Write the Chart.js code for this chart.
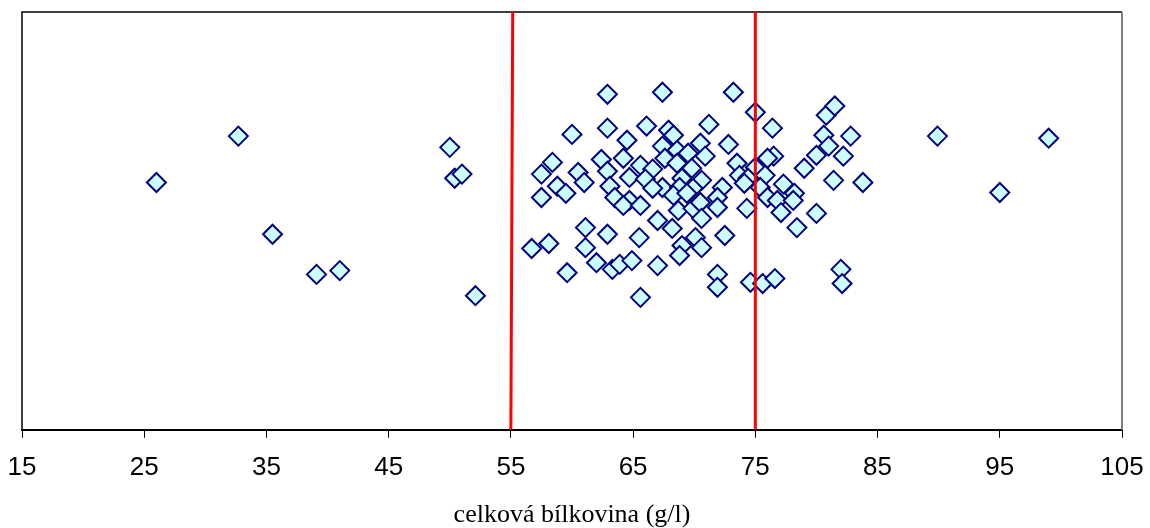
<!DOCTYPE html>
<html>
<head>
<meta charset="utf-8">
<script src="https://cdn.jsdelivr.net/npm/chart.js@4/dist/chart.umd.min.js"></script>
<style>
  html, body { margin: 0; padding: 0; background: #fff; }
  canvas { display: block; }
</style>
</head>
<body>
<canvas id="chart" width="1150" height="528"></canvas>
<script>
// celková bílkovina (g/l) – hodnoty a vertikální rozptyl (jen pro oddělení bodů)
const bilkovina = [
  26.0, 32.7, 35.5, 39.1, 41.0, 50.0, 50.4, 51.0, 52.1, 89.9, 95.0, 99.0,
  62.9, 67.4, 73.2, 75.0, 80.8, 81.5, 60.0, 62.9, 66.1, 64.5, 67.9, 68.3,
  71.2, 76.4, 80.6, 82.8, 67.4, 70.5, 72.8, 68.6, 69.5, 70.9, 67.6, 81.0,
  80.0, 82.2, 76.5, 58.4, 62.4, 64.2, 65.6, 66.6, 68.6, 69.8, 73.5, 76.0,
  75.0, 79.0, 57.5, 60.5, 62.9, 64.7, 66.0, 69.0, 70.6, 73.7, 74.4, 75.8,
  81.4, 83.8, 58.8, 61.0, 63.1, 67.4, 68.8, 69.9, 72.3, 74.1, 75.4, 77.3,
  57.5, 59.5, 63.5, 64.7, 64.2, 65.6, 68.3, 69.4, 68.7, 69.9, 70.5, 71.9,
  71.9, 74.3, 76.0, 76.8, 78.2, 78.1, 77.1, 80.0, 67.0, 68.2, 70.6, 78.4,
  61.1, 62.9, 65.5, 72.5, 70.1, 69.0, 70.6, 58.1, 56.7, 61.1, 68.8, 62.0,
  63.3, 63.9, 64.9, 67.0, 59.6, 71.9, 71.9, 74.6, 75.6, 76.6, 82.0, 82.1,
  65.6, 66.6
];
const rozptyl = [
  59.2, 70.3, 46.8, 37.2, 38.1, 67.6, 60.2, 61.2, 32.1, 70.3, 56.8, 69.8,
  80.3, 80.8, 80.8, 76.0, 75.3, 77.5, 70.7, 72.2, 72.7, 69.3, 71.7, 70.5,
  73.1, 72.2, 70.5, 70.3, 67.9, 68.6, 68.3, 66.9, 66.2, 65.5, 65.0, 67.9,
  65.7, 65.5, 65.5, 64.0, 64.7, 65.0, 63.3, 62.4, 63.8, 62.6, 63.8, 65.0,
  62.8, 62.6, 61.2, 61.6, 61.9, 60.4, 60.0, 60.2, 59.7, 60.9, 60.2, 60.9,
  59.7, 59.2, 58.3, 59.2, 58.3, 58.0, 58.0, 57.8, 58.0, 59.0, 58.0, 58.8,
  55.6, 56.6, 55.6, 54.9, 53.7, 53.7, 56.1, 56.6, 52.5, 53.0, 54.4, 55.6,
  53.2, 53.0, 55.6, 54.9, 56.6, 54.9, 52.0, 51.8, 50.1, 48.2, 50.6, 48.4,
  48.4, 46.8, 46.0, 46.5, 46.0, 44.1, 43.6, 44.6, 43.4, 43.6, 41.7, 40.0,
  38.4, 39.6, 40.5, 39.3, 37.6, 37.2, 34.1, 35.3, 35.0, 36.2, 38.4, 35.0,
  31.7, 57.8
];
// referenční meze
const dolniMez = [55.15, 55];
const horniMez = [75, 75];
const mezY = [100, 0];
const osaX = { min: 15, max: 105, krok: 10 };

const body = bilkovina.map((x, i) => ({ x, y: rozptyl[i] }));
const mez = (xs) => xs.map((x, i) => ({ x, y: mezY[i] }));

const ramecek = {
  id: 'ramecek',
  beforeDatasetsDraw(chart) {
    const { ctx, chartArea: a } = chart;
    ctx.save();
    ctx.lineWidth = 1.5;
    ctx.strokeStyle = '#000';
    ctx.beginPath();
    ctx.moveTo(a.left, a.bottom);
    ctx.lineTo(a.left, a.top);
    ctx.lineTo(a.right, a.top);
    ctx.stroke();
    ctx.strokeStyle = '#808080';
    ctx.lineWidth = 2;
    ctx.beginPath();
    ctx.moveTo(a.right, a.top);
    ctx.lineTo(a.right, a.bottom);
    ctx.stroke();
    ctx.restore();
  }
};

new Chart(document.getElementById('chart'), {
  type: 'scatter',
  data: {
    datasets: [
      {
        data: mez(dolniMez), showLine: true, borderColor: '#ff0000', borderWidth: 3,
        pointRadius: 0, order: 0
      },
      {
        data: mez(horniMez), showLine: true, borderColor: '#ff0000', borderWidth: 3,
        pointRadius: 0, order: 0
      },
      {
        data: body, pointStyle: 'rectRot', pointRadius: 9.5, borderWidth: 2,
        backgroundColor: '#ccffff', borderColor: '#000080', order: 1
      }
    ]
  },
  options: {
    responsive: false,
    animation: false,
    layout: { padding: { left: 22, right: 28, top: 12, bottom: 0 } },
    plugins: { legend: { display: false }, tooltip: { enabled: false } },
    scales: {
      x: {
        min: osaX.min, max: osaX.max,
        afterFit: (s) => { s.paddingLeft = 14; s.paddingRight = 20; },
        ticks: { stepSize: osaX.krok, color: '#000', padding: 14,
                 font: { family: 'Liberation Sans, Arial', size: 26 } },
        grid: { drawOnChartArea: false, drawTicks: true, tickLength: 8, color: '#000' },
        border: { display: true, color: '#000', width: 2 },
        title: { display: true, text: 'celková bílkovina (g/l)', color: '#000',
                 padding: { top: 5, bottom: 0 },
                 font: { family: 'Liberation Serif, Times New Roman', size: 26, lineHeight: 1 } }
      },
      y: { display: false, min: 0, max: 100 }
    }
  },
  plugins: [ramecek]
});
</script>
</body>
</html>
